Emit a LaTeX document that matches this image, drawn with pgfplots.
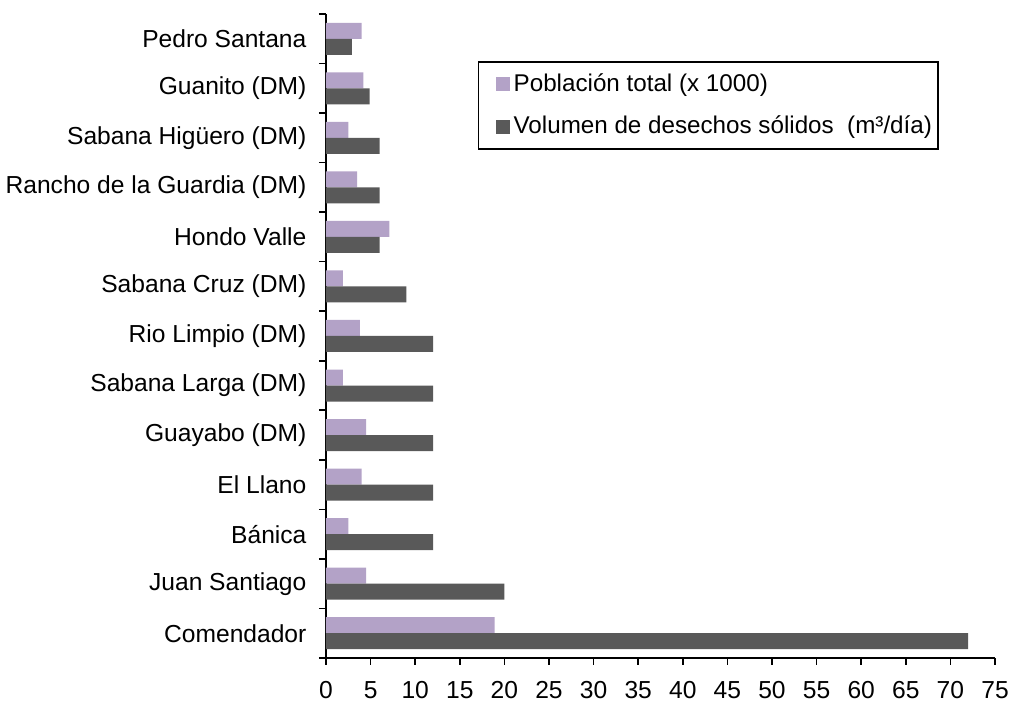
\documentclass[border=0pt]{standalone}
\usepackage{fontspec}
\setmainfont{Liberation Sans}
\usepackage{pgfplots}
\pgfplotsset{compat=1.18}
\definecolor{lightpurple}{RGB}{179,162,199}
\definecolor{darkgrey}{RGB}{89,89,89}
\begin{document}
\fontsize{12.3pt}{14.4pt}\selectfont
\begin{tikzpicture}
\useasboundingbox (-163pt,-23pt) rectangle (342.5pt,329pt);
\begin{axis}[
 at={(0pt,0pt)}, anchor=south west,
 scale only axis, width=334.5pt, height=322pt,
 xmin=0, xmax=75, ymin=-0.5, ymax=12.5,
 xtick={0,5,...,75},
 ytick={0,...,12},
 yticklabels={Comendador, Juan Santiago, Bánica, El Llano, Guayabo (DM), Sabana Larga (DM), Rio Limpio (DM), Sabana Cruz (DM), Hondo Valle, Rancho de la Guardia (DM), Sabana Higüero (DM), Guanito (DM), Pedro Santana},
 minor ytick={-0.5,0.5,...,12.5},
 major y tick style={draw=none},
 axis lines*=left,
 tick align=outside,
 major tick length=3.5pt, minor tick length=3.5pt,
 tick style={black, line width=0.8pt},
 axis line style={black, line width=1pt},
 /pgf/number format/assume math mode=true,
 ticklabel style={font=\fontsize{12.3pt}{14pt}\selectfont},
 xticklabel style={yshift=-4pt},
 yticklabel style={xshift=-2pt},
 bar width=8pt,
 legend style={at={(0.227,0.927)}, anchor=north west, draw=black, line width=0.8pt,
   font=\fontsize{12.1pt}{14pt}\selectfont, inner xsep=1pt, inner ysep=3.75pt, row sep=6.5pt,
   /tikz/every odd column/.append style={column sep=0pt}},
 legend cell align=left,
 legend image code/.code={\path (0pt,0pt); \fill[#1, draw=none] (7.5pt,-3.5pt) rectangle (14.5pt,3.5pt);},
]
\addplot[xbar, fill=lightpurple, draw=none, bar shift=4pt] coordinates {
(18.9,0) (4.5,1) (2.5,2) (4.0,3) (4.5,4) (1.9,5) (3.8,6) (1.9,7) (7.1,8) (3.5,9) (2.5,10) (4.2,11) (4.0,12)};
\addlegendentry{Población total (x 1000)}
\addplot[xbar, fill=darkgrey, draw=none, bar shift=-4pt] coordinates {
(72,0) (20,1) (12,2) (12,3) (12,4) (12,5) (12,6) (9,7) (6,8) (6,9) (6,10) (4.9,11) (2.9,12)};
\addlegendentry{Volumen de desechos sólidos \ (m³/día)}
\end{axis}
\end{tikzpicture}
\end{document}
